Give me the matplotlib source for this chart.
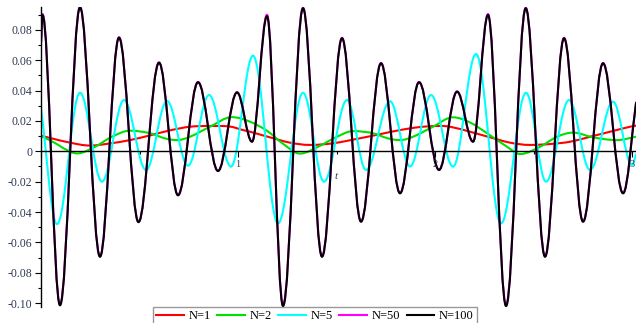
import matplotlib.pyplot as plt
from matplotlib.path import Path
from matplotlib.patches import PathPatch
from matplotlib.lines import Line2D
from matplotlib.ticker import MultipleLocator, FuncFormatter

plt.rcParams['font.family'] = ['Liberation Serif', 'DejaVu Serif']
plt.rcParams['axes.unicode_minus'] = False

# N=1 (red)
t_n1 = [0, 0.0457, 0.1472, 0.2487, 0.3503, 0.4518, 0.5533, 0.6548, 0.7563, 0.8579,
        0.9594, 1.0254, 1.0609, 1.1624, 1.264, 1.3655, 1.4822, 1.6193, 1.7208, 1.8223,
        1.9239, 2.0254, 2.0761, 2.1777, 2.2792, 2.3807, 2.4822, 2.5838, 2.6853, 2.7868,
        2.8883, 2.9898, 3.0203]
y_n1 = [0.0103, 0.0088, 0.0057, 0.0038, 0.0052, 0.0074, 0.0105, 0.0138, 0.0162, 0.0167,
        0.0163, 0.0140, 0.0129, 0.0092, 0.0057, 0.0042, 0.0053, 0.0086, 0.0113, 0.0140,
        0.0160, 0.0167, 0.0162, 0.0129, 0.0092, 0.0057, 0.0042, 0.0048, 0.0063, 0.0096,
        0.0129, 0.0162, 0.0169]

# N=2 (green)
t_n2 = [0, 0.0711, 0.1218, 0.1827, 0.2741, 0.3604, 0.4518, 0.5533, 0.6294, 0.6904,
        0.7563, 0.8579, 0.9695, 1.0609, 1.1472, 1.2284, 1.3147, 1.4061, 1.5025, 1.5838,
        1.6853, 1.7614, 1.8223, 1.8883, 1.9898, 2.0914, 2.1777, 2.264, 2.3655, 2.4315,
        2.533, 2.6193, 2.7005, 2.802, 2.9239, 3.0203]
y_n2 = [0.0101, 0.0055, 0.0015, -0.0014, 0.0030, 0.0096, 0.0136, 0.0119, 0.0085, 0.0074,
        0.0096, 0.0162, 0.0225, 0.0195, 0.0135, 0.0050, -0.0015, 0.0030, 0.0096, 0.0133,
        0.0119, 0.0085, 0.0074, 0.0096, 0.0162, 0.0224, 0.0190, 0.0119, 0.0030, -0.0018,
        0.0030, 0.0096, 0.0123, 0.0092, 0.0074, 0.0096]

# N=5 (cyan)
t_n5 = [0, 0.0812, 0.198, 0.3096, 0.4213, 0.533, 0.6396, 0.7462, 0.8528, 0.9645,
        1.0761, 1.203, 1.3299, 1.4365, 1.5533, 1.6497, 1.7716, 1.8731, 1.9797, 2.0914,
        2.2081, 2.335, 2.4619, 2.5635, 2.6802, 2.7868, 2.9036, 3.0, 3.0203]
y_n5 = [0.0285, -0.0480, 0.0386, -0.0200, 0.0338, -0.0123, 0.0332, -0.0095, 0.0371, -0.0101,
        0.0630, -0.0475, 0.0386, -0.0200, 0.0338, -0.0123, 0.0330, -0.0100, 0.0371, -0.0101,
        0.0641, -0.0475, 0.0386, -0.0200, 0.0338, -0.0123, 0.0327, -0.0090, -0.0020]

# N=100 (black)
t_n100 = [0, 0.0076, 0.0964, 0.198, 0.2995, 0.3959, 0.4949, 0.599, 0.6954, 0.797,
          0.8985, 0.9949, 1.0711, 1.1472, 1.2284, 1.3299, 1.4264, 1.5279, 1.6244, 1.7259,
          1.8223, 1.9188, 2.0203, 2.1117, 2.1929, 2.269, 2.3604, 2.4604, 2.5584, 2.6548,
          2.7513, 2.8528, 2.9543, 3.0203]
y_n100 = [0.0710, 0.0898, -0.1015, 0.0949, -0.0695, 0.0749, -0.0467, 0.0584, -0.0290, 0.0455,
          -0.0130, 0.0388, 0.0063, 0.0890, -0.1020, 0.0943, -0.0695, 0.0745, -0.0464, 0.0580,
          -0.0277, 0.0455, -0.0123, 0.0393, 0.0063, 0.0898, -0.1020, 0.0943, -0.0695, 0.0745,
          -0.0464, 0.0580, -0.0277, 0.0320]

# N=50 (magenta), almost hidden under N=100
t_n50 = t_n100
y_n50 = [0.0710, 0.0905, -0.1010, 0.0952, -0.0692, 0.0752, -0.0465, 0.0586, -0.0288, 0.0457,
         -0.0128, 0.0390, 0.0065, 0.0900, -0.1015, 0.0946, -0.0692, 0.0748, -0.0462, 0.0582,
         -0.0275, 0.0457, -0.0121, 0.0395, 0.0065, 0.0905, -0.1015, 0.0946, -0.0692, 0.0748,
         -0.0462, 0.0582, -0.0275, 0.0322]

series = [
    (t_n1, y_n1, '#ff0000', 'N=1'),
    (t_n2, y_n2, '#00e000', 'N=2'),
    (t_n5, y_n5, '#00ffff', 'N=5'),
    (t_n50, y_n50, '#ff00ff', 'N=50'),
    (t_n100, y_n100, '#000000', 'N=100'),
]


def smooth_path(t, y):
    # cubic Bezier segments through the read points; flat tangent at peaks/troughs
    n = len(t)
    slopes = []
    for i in range(n):
        if i == 0:
            m = (y[1] - y[0]) / (t[1] - t[0])
        elif i == n - 1:
            m = (y[-1] - y[-2]) / (t[-1] - t[-2])
        elif (y[i] - y[i - 1]) * (y[i + 1] - y[i]) <= 0:
            m = 0.0
        else:
            m = (y[i + 1] - y[i - 1]) / (t[i + 1] - t[i - 1])
        slopes.append(m)
    verts = [(t[0], y[0])]
    codes = [Path.MOVETO]
    for i in range(n - 1):
        dt = t[i + 1] - t[i]
        h1 = dt * (0.363 if slopes[i] == 0 else 1 / 3)
        h2 = dt * (0.363 if slopes[i + 1] == 0 else 1 / 3)
        verts += [(t[i] + h1, y[i] + slopes[i] * h1),
                  (t[i + 1] - h2, y[i + 1] - slopes[i + 1] * h2),
                  (t[i + 1], y[i + 1])]
        codes += [Path.CURVE4] * 3
    return Path(verts, codes)


fig = plt.figure(figsize=(6.36, 3.23), dpi=100)
ax = fig.add_axes([41 / 636, 16 / 323, 595 / 636, 300 / 323])

handles = []
for t, y, c, lab in series:
    ax.add_patch(PathPatch(smooth_path(t, y), facecolor='none', edgecolor=c, lw=1.5,
                           capstyle='round', joinstyle='round'))
    handles.append(Line2D([], [], color=c, lw=1.5, label=lab))

ax.set_xlim(0, 3.02)
ax.set_ylim(-0.1026, 0.0951)

ax.spines['left'].set_position(('data', 0))
ax.spines['bottom'].set_position(('data', 0))
ax.spines['top'].set_visible(False)
ax.spines['right'].set_visible(False)
for s in ['left', 'bottom']:
    ax.spines[s].set_linewidth(1.0)
    ax.spines[s].set_color('black')

ax.yaxis.set_major_locator(MultipleLocator(0.02))
ax.yaxis.set_minor_locator(MultipleLocator(0.01))
ax.yaxis.set_major_formatter(FuncFormatter(lambda v, p: '0' if abs(v) < 1e-9 else f'{v:.2f}'))
ax.xaxis.set_major_locator(MultipleLocator(1))
ax.xaxis.set_minor_locator(MultipleLocator(0.5))
ax.xaxis.set_major_formatter(FuncFormatter(lambda v, p: '' if abs(v) < 1e-9 else f'{v:.0f}'))

ax.tick_params(axis='y', which='major', direction='out', length=4, width=0.8, pad=2,
               labelsize=8.5, labelcolor='#2e3a52')
ax.tick_params(axis='y', which='minor', direction='out', length=2, width=0.8)
ax.tick_params(axis='x', which='major', direction='out', length=4, width=0.8, pad=2,
               labelsize=7.5, labelcolor='#2e3a52')
ax.tick_params(axis='x', which='minor', direction='out', length=2, width=0.8)

ax.text(1.5, -0.0169, 't', style='italic', fontsize=8, color='#2e3a52',
        ha='center', va='center')

leg = fig.legend(handles=handles, loc='upper center', bbox_to_anchor=(315 / 636, 1 - 307 / 323),
                 ncol=5, fontsize=9, handlelength=2.2, handletextpad=0.4, columnspacing=0.5,
                 borderpad=0.25, borderaxespad=0, frameon=True, fancybox=False)
leg.get_frame().set_edgecolor('#808080')
leg.get_frame().set_linewidth(1.0)

fig.savefig('out.png', dpi=100)
